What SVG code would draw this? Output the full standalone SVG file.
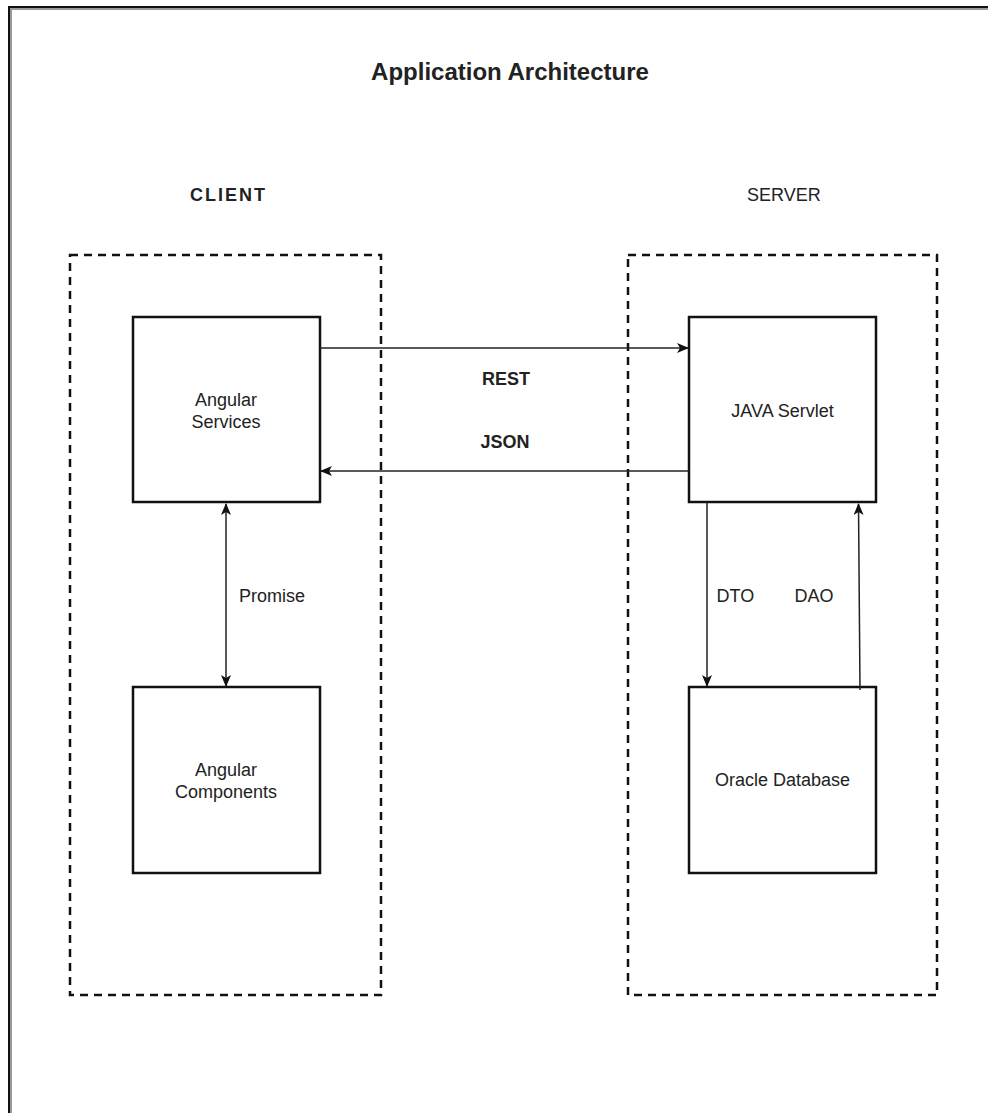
<svg xmlns="http://www.w3.org/2000/svg" width="988" height="1113" viewBox="0 0 988 1113">
<style>
text{font-family:"Liberation Sans",Arial,sans-serif;fill:#222;}
.b{font-weight:bold;}
.t18{font-size:18px;}
.node rect{fill:#fff;stroke:#111;stroke-width:2.5;}
.group{fill:none;stroke:#111;stroke-width:2.5;stroke-dasharray:8 6;}
.edge{fill:none;stroke:#222;stroke-width:1.5;}
</style>
<defs>
<marker id="ah" viewBox="0 0 12 10" refX="11" refY="5" markerWidth="12" markerHeight="10" markerUnits="userSpaceOnUse" orient="auto-start-reverse">
<path d="M0,0 L12,5 L0,10 L3,5 Z" fill="#111"/>
</marker>
</defs>
<rect width="988" height="1113" fill="#fff"/>
<g id="frame">
<path d="M11,1113 V9 H988" fill="none" stroke="#999" stroke-width="2"/>
<path d="M9,1113 V7 H988" fill="none" stroke="#111" stroke-width="2"/>
</g>
<g id="title">
<text x="510" y="80" text-anchor="middle" class="b" font-size="24">Application Architecture</text>
</g>
<g id="client">
<rect class="group" x="70" y="255" width="311" height="740"/>
<text x="190" y="201" class="b t18" letter-spacing="2">CLIENT</text>
</g>
<g id="server">
<rect class="group" x="628" y="255" width="309" height="740"/>
<text x="747" y="201" class="t18">SERVER</text>
</g>
<g id="angular-services" class="node">
<rect x="133" y="317" width="187" height="185"/>
<text x="226" y="406" text-anchor="middle" class="t18">Angular</text>
<text x="226" y="428" text-anchor="middle" class="t18">Services</text>
</g>
<g id="angular-components" class="node">
<rect x="133" y="687" width="187" height="186"/>
<text x="226" y="776" text-anchor="middle" class="t18">Angular</text>
<text x="226" y="798" text-anchor="middle" class="t18">Components</text>
</g>
<g id="java-servlet" class="node">
<rect x="689" y="317" width="187" height="185"/>
<text x="782.5" y="416.5" text-anchor="middle" class="t18">JAVA Servlet</text>
</g>
<g id="oracle-database" class="node">
<rect x="689" y="687" width="187" height="186"/>
<text x="782.5" y="786" text-anchor="middle" class="t18">Oracle Database</text>
</g>
<g id="connectors">
<path class="edge" d="M320,348 H688" marker-end="url(#ah)"/>
<path class="edge" d="M689,471 H321" marker-end="url(#ah)"/>
<path class="edge" d="M226,504 V686" marker-start="url(#ah)" marker-end="url(#ah)"/>
<path class="edge" d="M707,502 V686" marker-end="url(#ah)"/>
<path class="edge" d="M860,690 L858.5,504" marker-end="url(#ah)"/>
<text x="506" y="384.5" text-anchor="middle" class="b t18">REST</text>
<text x="505" y="448" text-anchor="middle" class="b t18">JSON</text>
<text x="239" y="601.5" class="t18">Promise</text>
<text x="716.5" y="601.5" class="t18">DTO</text>
<text x="794.5" y="601.5" class="t18">DAO</text>
</g>
</svg>
